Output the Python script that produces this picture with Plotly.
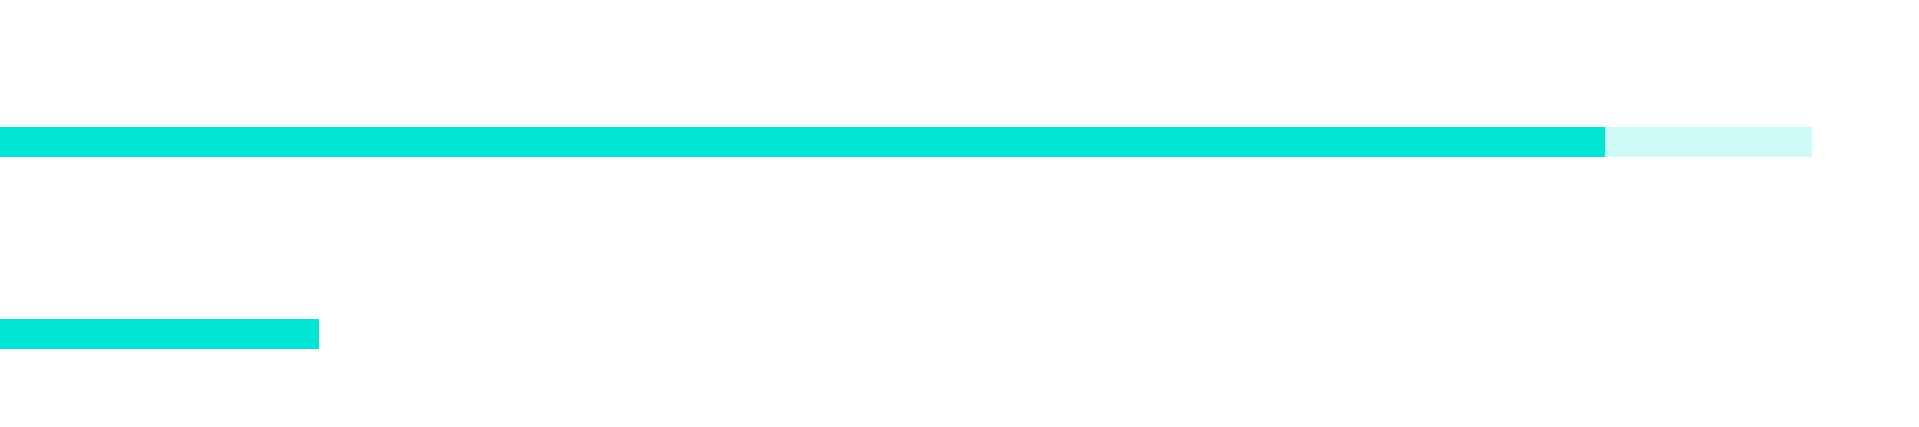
import plotly.graph_objects as go

categories = [0, 1]
progress_values = [16.62, 83.64]
remaining_values = [0, 10.78]

dark_color = "#00E5D4"
light_color = "rgba(0,229,212,0.2)"

fig = go.Figure()
fig.add_trace(go.Bar(
    y=categories, x=progress_values, orientation="h",
    marker=dict(color=dark_color, line=dict(width=0)),
    width=0.156, showlegend=False, hoverinfo="skip",
))
fig.add_trace(go.Bar(
    y=categories, x=remaining_values, orientation="h",
    marker=dict(color=light_color, line=dict(width=0)),
    width=0.156, showlegend=False, hoverinfo="skip",
))

fig.update_layout(
    barmode="stack",
    width=1919, height=427,
    margin=dict(l=0, r=0, t=0, b=0),
    paper_bgcolor="white", plot_bgcolor="white",
    xaxis=dict(range=[0, 100], visible=False, showgrid=False, zeroline=False, fixedrange=True),
    yaxis=dict(range=[-0.484, 1.7396], visible=False, showgrid=False, zeroline=False, fixedrange=True),
)

fig.write_html(
    "out.html",
    config={"displayModeBar": False},
    post_script="document.body.style.margin='0';document.body.style.overflow='hidden';",
)
